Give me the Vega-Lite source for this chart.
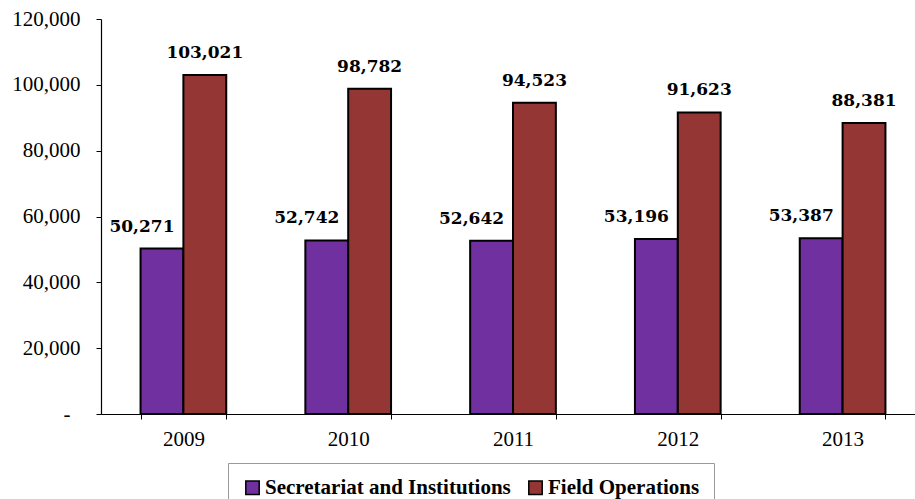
{
  "$schema": "https://vega.github.io/schema/vega-lite/v6.json",
  "width": 814,
  "height": 395,
  "autosize": {"type": "none"},
  "padding": {"left": 101, "top": 19, "right": 0, "bottom": 85},
  "background": "white",
  "config": {"view": {"stroke": null}, "font": "DejaVu Serif"},
  "data": {
    "values": [
      {"year": "2009", "series": "Secretariat and Institutions", "value": 50271},
      {"year": "2009", "series": "Field Operations", "value": 103021},
      {"year": "2010", "series": "Secretariat and Institutions", "value": 52742},
      {"year": "2010", "series": "Field Operations", "value": 98782},
      {"year": "2011", "series": "Secretariat and Institutions", "value": 52642},
      {"year": "2011", "series": "Field Operations", "value": 94523},
      {"year": "2012", "series": "Secretariat and Institutions", "value": 53196},
      {"year": "2012", "series": "Field Operations", "value": 91623},
      {"year": "2013", "series": "Secretariat and Institutions", "value": 53387},
      {"year": "2013", "series": "Field Operations", "value": 88381}
    ]
  },
  "encoding": {
    "x": {
      "field": "year",
      "type": "nominal",
      "scale": {"range": [0, 824], "paddingInner": 0.48, "paddingOuter": 0.24},
      "axis": {
        "title": null,
        "labelAngle": 0,
        "labelFont": "Liberation Serif",
        "labelFontSize": 21,
        "labelColor": "black",
        "labelPadding": 9,
        "tickBand": "extent",
        "tickSize": 5,
        "tickColor": "black",
        "domainColor": "black",
        "domainWidth": 1.2
      }
    },
    "y": {
      "field": "value",
      "type": "quantitative",
      "scale": {"domain": [0, 120000], "nice": false},
      "axis": {
        "title": null,
        "values": [0, 20000, 40000, 60000, 80000, 100000, 120000],
        "labelExpr": "datum.value == 0 ? '-' : format(datum.value, ',')",
        "labelFont": "Liberation Serif",
        "labelFontSize": 21,
        "labelColor": "black",
        "labelPadding": {"condition": {"test": "datum.value == 0", "value": 26}, "value": 16},
        "tickSize": 5,
        "tickColor": "black",
        "domainColor": "black",
        "domainWidth": 1.2,
        "grid": false
      }
    },
    "xOffset": {
      "field": "series",
      "type": "nominal",
      "sort": ["Secretariat and Institutions", "Field Operations"],
      "scale": {"paddingInner": 0, "paddingOuter": 0}
    }
  },
  "layer": [
    {
      "mark": {"type": "bar", "stroke": "black", "strokeWidth": 2},
      "encoding": {
        "color": {
          "field": "series",
          "type": "nominal",
          "sort": ["Secretariat and Institutions", "Field Operations"],
          "scale": {"domain": ["Secretariat and Institutions", "Field Operations"], "range": ["#7030A0", "#943634"]},
          "legend": {
            "title": null,
            "orient": "none",
            "legendX": 127,
            "legendY": 444,
            "direction": "horizontal",
            "padding": 14,
            "strokeColor": "#999",
            "labelFont": "Liberation Serif",
            "labelFontWeight": "bold",
            "labelFontSize": 21,
            "labelColor": "black",
            "labelLimit": 0,
            "labelOffset": 2,
            "symbolType": "square",
            "symbolSize": 180,
            "symbolStrokeColor": "black",
            "symbolStrokeWidth": 1.5,
            "symbolOpacity": 1,
            "columnPadding": 14
          }
        }
      }
    },
    {
      "transform": [{"filter": "datum.series == 'Secretariat and Institutions'"}],
      "mark": {"type": "text", "baseline": "bottom", "dy": -13, "dx": -20, "fontSize": 17, "fontWeight": "bold", "color": "black"},
      "encoding": {"text": {"field": "value", "type": "quantitative", "format": ","}}
    },
    {
      "transform": [{"filter": "datum.series == 'Field Operations'"}],
      "mark": {"type": "text", "baseline": "bottom", "dy": -13, "fontSize": 17, "fontWeight": "bold", "color": "black"},
      "encoding": {"text": {"field": "value", "type": "quantitative", "format": ","}}
    }
  ]
}
